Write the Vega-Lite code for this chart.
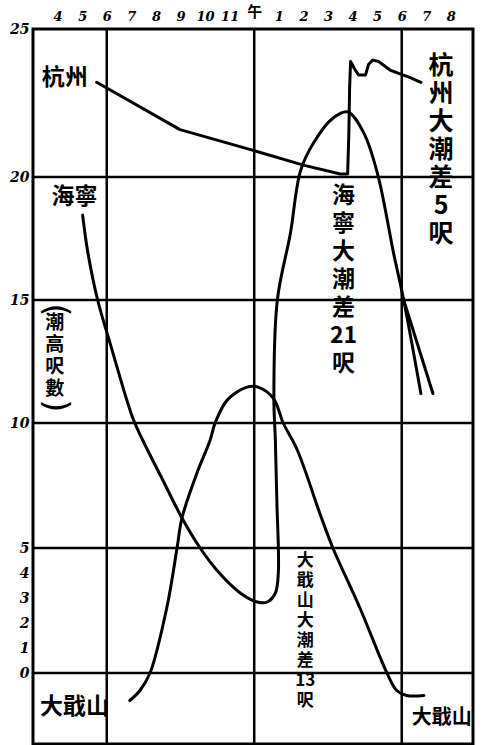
{
  "$schema": "https://vega.github.io/schema/vega-lite/v6.json",
  "width": 440,
  "height": 715,
  "autosize": {"type": "none"},
  "padding": {"left": 33, "top": 29, "right": 10, "bottom": 1},
  "background": "white",
  "config": {
    "view": {"stroke": "black", "strokeWidth": 3},
    "axis": {"grid": false, "domain": false, "ticks": false, "labelOverlap": false, "labelSeparation": 0}
  },
  "datasets": {
    "hlines": [{"v": 0}, {"v": 5}, {"v": 10}, {"v": 15}, {"v": 20}],
    "vlines": [{"h": 6}, {"h": 12}, {"h": 18}],
    "series": [
      {"s": "hz", "i": 0, "h": 5.59, "v": 23.2},
      {"s": "hz", "i": 1, "h": 8.98, "v": 21.6},
      {"s": "hz", "i": 2, "h": 11.96, "v": 20.9},
      {"s": "hz", "i": 3, "h": 14.0, "v": 20.4},
      {"s": "hz", "i": 4, "h": 15.5, "v": 20.1},
      {"s": "hz", "i": 5, "h": 15.8, "v": 20.1},
      {"s": "hz", "i": 6, "h": 15.85, "v": 21.5},
      {"s": "hz", "i": 7, "h": 15.88, "v": 23.0},
      {"s": "hz", "i": 8, "h": 15.92, "v": 23.9},
      {"s": "hz", "i": 9, "h": 16.12, "v": 23.6},
      {"s": "hz", "i": 10, "h": 16.24, "v": 23.45},
      {"s": "hz", "i": 11, "h": 16.53, "v": 23.45},
      {"s": "hz", "i": 12, "h": 16.65, "v": 23.8},
      {"s": "hz", "i": 13, "h": 16.82, "v": 23.95},
      {"s": "hz", "i": 14, "h": 17.06, "v": 23.9},
      {"s": "hz", "i": 15, "h": 17.55, "v": 23.6},
      {"s": "hz", "i": 16, "h": 18.37, "v": 23.35},
      {"s": "hz", "i": 17, "h": 18.78, "v": 23.2},
      {"s": "hn", "i": 0, "h": 5.02, "v": 18.45},
      {"s": "hn", "i": 1, "h": 5.22, "v": 17.0},
      {"s": "hn", "i": 2, "h": 5.63, "v": 15.0},
      {"s": "hn", "i": 3, "h": 6.12, "v": 13.3},
      {"s": "hn", "i": 4, "h": 7.06, "v": 10.2},
      {"s": "hn", "i": 5, "h": 7.47, "v": 9.3},
      {"s": "hn", "i": 6, "h": 8.29, "v": 7.7},
      {"s": "hn", "i": 7, "h": 9.06, "v": 6.2},
      {"s": "hn", "i": 8, "h": 9.8, "v": 5.0},
      {"s": "hn", "i": 9, "h": 10.49, "v": 4.1},
      {"s": "hn", "i": 10, "h": 11.43, "v": 3.2},
      {"s": "hn", "i": 11, "h": 12.12, "v": 2.84},
      {"s": "hn", "i": 12, "h": 12.53, "v": 2.84},
      {"s": "hn", "i": 13, "h": 12.86, "v": 3.2},
      {"s": "hn", "i": 14, "h": 12.98, "v": 4.0},
      {"s": "hn", "i": 15, "h": 12.92, "v": 6.9},
      {"s": "hn", "i": 16, "h": 12.86, "v": 9.3},
      {"s": "hn", "i": 17, "h": 12.8, "v": 11.0},
      {"s": "hn", "i": 18, "h": 12.94, "v": 15.0},
      {"s": "hn", "i": 19, "h": 13.47, "v": 17.7},
      {"s": "hn", "i": 20, "h": 13.88, "v": 20.2},
      {"s": "hn", "i": 21, "h": 14.41, "v": 21.15},
      {"s": "hn", "i": 22, "h": 15.22, "v": 22.0},
      {"s": "hn", "i": 23, "h": 15.8, "v": 22.2},
      {"s": "hn", "i": 24, "h": 16.45, "v": 21.5},
      {"s": "hn", "i": 25, "h": 17.02, "v": 20.1},
      {"s": "hn", "i": 26, "h": 17.67, "v": 16.9},
      {"s": "hn", "i": 27, "h": 18.08, "v": 15.0},
      {"s": "hn", "i": 28, "h": 18.78, "v": 11.2},
      {"s": "hn2", "i": 0, "h": 18.08, "v": 15.0},
      {"s": "hn2", "i": 1, "h": 19.27, "v": 11.2},
      {"s": "dq", "i": 0, "h": 6.94, "v": -1.1},
      {"s": "dq", "i": 1, "h": 7.35, "v": -0.7},
      {"s": "dq", "i": 2, "h": 7.76, "v": 0},
      {"s": "dq", "i": 3, "h": 8.45, "v": 2.64},
      {"s": "dq", "i": 4, "h": 8.86, "v": 5.0},
      {"s": "dq", "i": 5, "h": 9.06, "v": 6.2},
      {"s": "dq", "i": 6, "h": 9.67, "v": 8.0},
      {"s": "dq", "i": 7, "h": 10.2, "v": 9.3},
      {"s": "dq", "i": 8, "h": 10.41, "v": 10.0},
      {"s": "dq", "i": 9, "h": 10.9, "v": 10.93},
      {"s": "dq", "i": 10, "h": 11.71, "v": 11.46},
      {"s": "dq", "i": 11, "h": 12.16, "v": 11.46},
      {"s": "dq", "i": 12, "h": 12.78, "v": 11.0},
      {"s": "dq", "i": 13, "h": 13.18, "v": 10.0},
      {"s": "dq", "i": 14, "h": 13.76, "v": 8.9},
      {"s": "dq", "i": 15, "h": 14.7, "v": 6.3},
      {"s": "dq", "i": 16, "h": 15.2, "v": 5.0},
      {"s": "dq", "i": 17, "h": 16.3, "v": 2.6},
      {"s": "dq", "i": 18, "h": 17.4, "v": 0},
      {"s": "dq", "i": 19, "h": 17.8, "v": -0.7},
      {"s": "dq", "i": 20, "h": 18.2, "v": -0.9},
      {"s": "dq", "i": 21, "h": 18.9, "v": -0.9}
    ],
    "labels": [
      {"g": "name", "t": "杭州", "h": 4.29, "v": 23.35},
      {"g": "name", "t": "海寧", "h": 4.69, "v": 19.2},
      {"g": "name", "t": "大戢山", "h": 4.69, "v": -1.36},
      {"g": "name2", "t": "大戢山", "h": 19.63, "v": -1.8},
      {"g": "big", "t": "杭\n州\n大\n潮\n差\n5\n呎", "h": 19.6, "v": 24.15},
      {"g": "mid", "t": "海\n寧\n大\n潮\n差\n21\n呎", "h": 15.63, "v": 19.67},
      {"g": "small", "t": "大\n戢\n山\n大\n潮\n差\n13\n呎", "h": 14.08, "v": 4.8},
      {"g": "unit", "t": "潮\n高\n呎\n數", "h": 3.88, "v": 14.45},
      {"g": "paren", "t": "(", "h": 3.9, "v": 14.6},
      {"g": "paren", "t": ")", "h": 3.9, "v": 10.7}
    ]
  },
  "layer": [
    {
      "data": {"name": "hlines"},
      "mark": {"type": "rule", "stroke": "black", "strokeWidth": 2.5},
      "encoding": {
        "y": {"field": "v", "type": "quantitative", "title": null,
          "scale": {"domain": [-2.84, 0, 5, 10, 15, 20, 25], "range": [715, 644, 519, 394, 271, 148, 0], "zero": false, "nice": false},
          "axis": {
            "orient": "left",
            "values": [0, 1, 2, 3, 4, 5, 10, 15, 20, 25],
            "tickCount": 30,
            "labelFont": "DejaVu Serif",
            "labelFontStyle": "italic",
            "labelFontWeight": "bold",
            "labelFontSize": 14,
            "labelColor": "black",
            "labelPadding": 4
          }
        }
      }
    },
    {
      "data": {"name": "vlines"},
      "mark": {"type": "rule", "stroke": "black", "strokeWidth": 2.5},
      "encoding": {
        "x": {"field": "h", "type": "quantitative", "title": null,
          "scale": {"domain": [3, 20.9], "zero": false, "nice": false},
          "axis": {
            "orient": "top",
            "values": [4, 5, 6, 7, 8, 9, 10, 11, 12, 13, 14, 15, 16, 17, 18, 19, 20],
            "tickCount": 30,
            "labelExpr": "datum.value == 12 ? '午' : (datum.value > 12 ? '' + (datum.value - 12) : '' + datum.value)",
            "labelFont": {"condition": {"test": "datum.value == 12", "value": "Noto Sans CJK TC"}, "value": "DejaVu Serif"},
            "labelFontSize": {"condition": {"test": "datum.value == 12", "value": 15}, "value": 13},
            "labelFontStyle": {"condition": {"test": "datum.value == 12", "value": "normal"}, "value": "italic"},
            "labelFontWeight": "bold",
            "labelPadding": {"condition": {"test": "datum.value == 12", "value": 10}, "value": 6},
            "labelColor": "black",
            "labelFlush": false,
            "labelOverlap": false,
            "labelSeparation": 0
          }
        }
      }
    },
    {
      "data": {"name": "series"},
      "transform": [{"filter": "datum.s == 'hz'"}],
      "mark": {"type": "line", "stroke": "black", "strokeWidth": 3, "strokeCap": "round", "strokeJoin": "round"},
      "encoding": {
        "x": {"field": "h", "type": "quantitative", "title": null},
        "y": {"field": "v", "type": "quantitative", "title": null},
        "detail": {"field": "s"},
        "order": {"field": "i", "type": "quantitative"}
      }
    },
    {
      "data": {"name": "series"},
      "transform": [{"filter": "datum.s != 'hz'"}],
      "mark": {"type": "line", "stroke": "black", "strokeWidth": 3, "strokeCap": "round", "strokeJoin": "round", "interpolate": "catmull-rom"},
      "encoding": {
        "x": {"field": "h", "type": "quantitative", "title": null},
        "y": {"field": "v", "type": "quantitative", "title": null},
        "detail": {"field": "s"},
        "order": {"field": "i", "type": "quantitative"}
      }
    },
    {
      "data": {"name": "labels"},
      "transform": [{"filter": "datum.g == 'name'"}],
      "mark": {"type": "text", "font": "Noto Sans CJK TC", "fontSize": 23, "fontWeight": "bold", "color": "black", "align": "center", "baseline": "middle"},
      "encoding": {
        "x": {"field": "h", "type": "quantitative", "title": null},
        "y": {"field": "v", "type": "quantitative", "title": null},
        "text": {"field": "t"}
      }
    },
    {
      "data": {"name": "labels"},
      "transform": [{"filter": "datum.g == 'name2'"}],
      "mark": {"type": "text", "font": "Noto Sans CJK TC", "fontSize": 20, "fontWeight": "bold", "color": "black", "align": "center", "baseline": "middle"},
      "encoding": {
        "x": {"field": "h", "type": "quantitative", "title": null},
        "y": {"field": "v", "type": "quantitative", "title": null},
        "text": {"field": "t"}
      }
    },
    {
      "data": {"name": "labels"},
      "transform": [{"filter": "datum.g == 'big'"}],
      "mark": {"type": "text", "font": "Noto Sans CJK TC", "fontSize": 25, "fontWeight": "bold", "lineHeight": 28, "lineBreak": "\n", "color": "black", "align": "center", "baseline": "top"},
      "encoding": {
        "x": {"field": "h", "type": "quantitative", "title": null},
        "y": {"field": "v", "type": "quantitative", "title": null},
        "text": {"field": "t"}
      }
    },
    {
      "data": {"name": "labels"},
      "transform": [{"filter": "datum.g == 'mid'"}],
      "mark": {"type": "text", "font": "Noto Sans CJK TC", "fontSize": 23, "fontWeight": "bold", "lineHeight": 28, "lineBreak": "\n", "color": "black", "align": "center", "baseline": "top"},
      "encoding": {
        "x": {"field": "h", "type": "quantitative", "title": null},
        "y": {"field": "v", "type": "quantitative", "title": null},
        "text": {"field": "t"}
      }
    },
    {
      "data": {"name": "labels"},
      "transform": [{"filter": "datum.g == 'small'"}],
      "mark": {"type": "text", "font": "Noto Sans CJK TC", "fontSize": 17, "fontWeight": "bold", "lineHeight": 20, "lineBreak": "\n", "color": "black", "align": "center", "baseline": "top"},
      "encoding": {
        "x": {"field": "h", "type": "quantitative", "title": null},
        "y": {"field": "v", "type": "quantitative", "title": null},
        "text": {"field": "t"}
      }
    },
    {
      "data": {"name": "labels"},
      "transform": [{"filter": "datum.g == 'unit'"}],
      "mark": {"type": "text", "font": "Noto Sans CJK TC", "fontSize": 19, "fontWeight": "bold", "lineHeight": 22, "lineBreak": "\n", "color": "black", "align": "center", "baseline": "top"},
      "encoding": {
        "x": {"field": "h", "type": "quantitative", "title": null},
        "y": {"field": "v", "type": "quantitative", "title": null},
        "text": {"field": "t"}
      }
    },
    {
      "data": {"name": "labels"},
      "transform": [{"filter": "datum.g == 'paren'"}],
      "mark": {"type": "text", "font": "DejaVu Sans", "fontSize": 34, "color": "black", "align": "center", "baseline": "middle", "angle": 90},
      "encoding": {
        "x": {"field": "h", "type": "quantitative", "title": null},
        "y": {"field": "v", "type": "quantitative", "title": null},
        "text": {"field": "t"}
      }
    }
  ]
}
